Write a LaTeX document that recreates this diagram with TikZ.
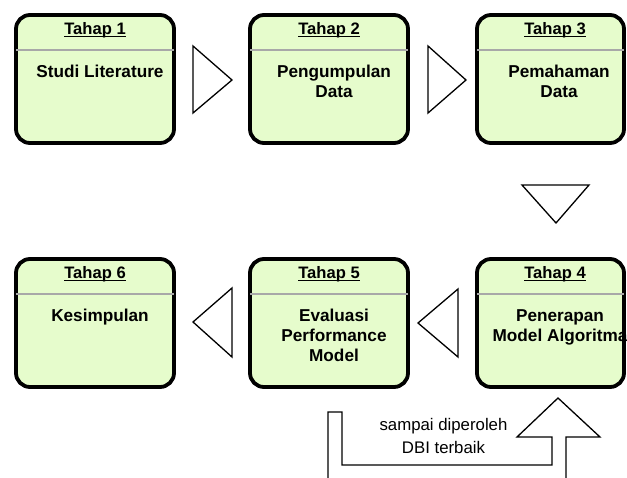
\documentclass[tikz,border=0pt]{standalone}
\usepackage{fontspec}
\setmainfont{Liberation Sans}
\definecolor{stagefill}{HTML}{E6FCCC}
\definecolor{sepgray}{HTML}{A8A8A8}
\newcommand\myul[1]{\setbox0\hbox{#1}\rlap{\rule[-2.9pt]{\wd0}{1.3pt}}\box0}
\newcommand\lines[1]{\begin{tabular}[t]{@{}c@{}}#1\end{tabular}}
\begin{document}
\begin{tikzpicture}[x=1pt,y=-1pt,
  stagebox/.style={draw=black, line width=3.8pt, fill=stagefill, rounded corners=14pt,
    minimum height=128pt, inner sep=0pt},
  wide/.style={minimum width=158pt},
  narrow/.style={minimum width=147pt},
  sepline/.style={draw=sepgray, line width=1.8pt, shorten <=1.9pt, shorten >=1.9pt},
  titletext/.style={font=\fontsize{16.6}{20}\selectfont\bfseries, anchor=base, inner sep=0pt},
  bodytext/.style={font=\fontsize{17.2}{20}\selectfont\bfseries, anchor=base, inner sep=0pt},
  labeltext/.style={font=\fontsize{16.8}{22.3}\selectfont, anchor=base, inner sep=0pt},
  flow/.style={draw=black, line width=1.3pt, fill=white, line join=miter}]
\useasboundingbox (0,0) rectangle (627,477);

% stage boxes
\node[stagebox, wide]   (b1) at (95,79)    {};
\node[stagebox, wide]   (b2) at (329,79)   {};
\node[stagebox, narrow] (b3) at (550.5,79) {};
\node[stagebox, narrow] (b4) at (550.5,323) {};
\node[stagebox, wide]   (b5) at (329,323)  {};
\node[stagebox, wide]   (b6) at (95,323)   {};

% separators
\foreach \b in {b1,b2,b3,b4,b5,b6}
  \draw[sepline] ([yshift=29pt]\b.west) -- ([yshift=29pt]\b.east);

% titles
\node[titletext] (t1) at (95,34)  {\myul{Tahap 1}};
\node[titletext] (t2) at (329,34) {\myul{Tahap 2}};
\node[titletext] (t3) at (555,34) {\myul{Tahap 3}};
\node[titletext] (t4) at (555,278) {\myul{Tahap 4}};
\node[titletext] (t5) at (329,278) {\myul{Tahap 5}};
\node[titletext] (t6) at (95,278)  {\myul{Tahap 6}};

% body texts
\node[bodytext] (d1) at (100,77)  {\lines{Studi Literature}};
\node[bodytext] (d2) at (334,77)  {\lines{Pengumpulan\\Data}};
\node[bodytext] (d3) at (559,77)  {\lines{Pemahaman\\Data}};
\node[bodytext] (d4) at (560,321) {\lines{Penerapan\\Model Algoritma}};
\node[bodytext] (d5) at (334,321) {\lines{Evaluasi\\Performance\\Model}};
\node[bodytext] (d6) at (100,321) {\lines{Kesimpulan}};

% flow triangles
\draw[flow] (193,46) -- (193,113) -- (232,80) -- cycle;
\draw[flow] (428,46) -- (428,113) -- (466,80) -- cycle;
\draw[flow] (522,185) -- (589,185) -- (556,223) -- cycle;
\draw[flow] (418,323) -- (458,289) -- (458,357) -- cycle;
\draw[flow] (193,322) -- (232,288) -- (232,357) -- cycle;

% loop arrow
\draw[flow, fill=none] (328,480) -- (328,412) -- (342,412) -- (342,465) -- (552,465)
  -- (552,437) -- (517,437) -- (558,398) -- (600,437) -- (566,437) -- (566,480);
\node[labeltext] (lbl) at (443.5,430.7) {\begin{tabular}[t]{@{}c@{}}sampai diperoleh\\DBI terbaik\end{tabular}};
\end{tikzpicture}
\end{document}
